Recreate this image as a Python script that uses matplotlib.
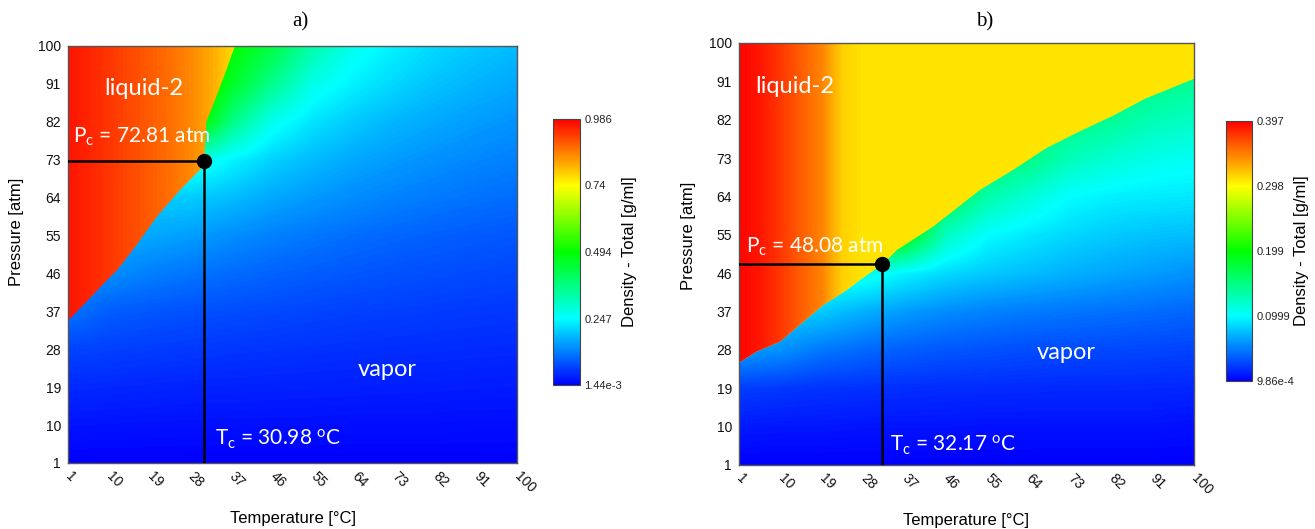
import numpy as np
import matplotlib
matplotlib.use("Agg")
import matplotlib.pyplot as plt
from matplotlib.colors import LinearSegmentedColormap, Normalize
from matplotlib.patches import Polygon
from matplotlib.cm import ScalarMappable

# ---------------- data ----------------
temps = [1, 10, 19, 28, 37, 46, 55, 64, 73, 82, 91, 100]          # °C (grid / ticks)
pressures = [1, 10, 19, 28, 37, 46, 55, 64, 73, 82, 91, 100]      # atm (grid / ticks)
tick_labels = [str(v) for v in temps]

# Panel a) -- vapour / supercritical density field [g/ml], rows = pressures, cols = temps
vapor_a = [
    [.002, .002, .002, .002, .002, .002, .002, .002, .002, .002, .002, .0015],
    [.021, .020, .019, .018, .018, .017, .017, .016, .016, .016, .015, .015],
    [.042, .040, .038, .036, .035, .034, .033, .032, .031, .030, .029, .028],
    [.068, .064, .060, .057, .054, .052, .050, .048, .046, .045, .043, .042],
    [.115, .092, .086, .080, .076, .072, .068, .064, .062, .059, .057, .055],
    [.140, .140, .125, .115, .106, .098, .092, .086, .081, .077, .073, .070],
    [.170, .170, .165, .155, .140, .127, .117, .108, .101, .095, .090, .086],
    [.200, .200, .200, .200, .185, .165, .150, .138, .128, .120, .113, .107],
    [.280, .280, .280, .280, .240, .205, .183, .165, .152, .142, .133, .126],
    [.550, .550, .550, .550, .370, .265, .222, .197, .178, .165, .154, .145],
    [.600, .600, .600, .600, .460, .360, .270, .235, .210, .190, .176, .165],
    [.650, .650, .650, .650, .500, .430, .330, .265, .235, .212, .196, .184],
]
liquid_a_temps = [1, 5.5, 10, 14.5, 19, 23.5, 28, 32.5, 37, 41.5]
liquid_a_density = [.966, .950, .933, .915, .897, .878, .853, .822, .780, .750]
boundary_a_T = [1, 5, 9.6, 12, 15.8, 20.6, 25.7, 28, 30.1, 30.98, 31.2, 31.5, 33.7, 35.8, 37.8]
boundary_a_P = [34.8, 39.2, 44.4, 47, 52.3, 59.5, 65.8, 68.3, 70.6, 72.81, 76, 82, 88, 94, 100]
Tc_a, Pc_a = 30.98, 72.81
cbar_range_a = [1.44e-3, 0.986]
cbar_ticks_a = [1.44e-3, 0.247, 0.494, 0.74, 0.986]
cbar_labels_a = ["1.44e-3", "0.247", "0.494", "0.74", "0.986"]

# Panel b)
vapor_b = [
    [.0013, .0013, .0012, .0012, .0012, .0011, .0011, .0011, .0010, .0010, .0010, .0010],
    [.011, .010, .010, .009, .009, .009, .008, .008, .008, .008, .008, .007],
    [.025, .023, .021, .020, .019, .018, .018, .0175, .017, .017, .0165, .016],
    [.062, .058, .048, .042, .038, .035, .033, .031, .030, .029, .028, .027],
    [.090, .082, .080, .070, .062, .056, .052, .049, .047, .045, .043, .041],
    [.120, .112, .110, .110, .096, .086, .080, .075, .070, .066, .062, .058],
    [.200, .200, .200, .220, .200, .125, .100, .092, .085, .080, .077, .075],
    [.180, .180, .180, .180, .180, .170, .135, .116, .100, .095, .093, .092],
    [.160, .160, .160, .160, .160, .160, .160, .150, .128, .117, .109, .105],
    [.150, .150, .150, .150, .150, .150, .150, .150, .150, .142, .130, .123],
    [.150, .150, .150, .150, .150, .150, .150, .150, .150, .150, .150, .143],
    [.150, .150, .150, .150, .150, .150, .150, .150, .150, .150, .150, .150],
]
liquid_b_temps = [1, 5.5, 10, 14.5, 19, 23.5, 28, 32.5]
liquid_b_density = [.395, .388, .375, .360, .345, .315, .308, .308]
fluid_b_density = 0.308
lower_b_T = [1, 4.8, 9.9, 15, 19.3, 24.4, 27.3, 32.17]
lower_b_P = [25.0, 27.6, 29.9, 34.6, 38.5, 42.0, 44.4, 48.08]
upper_b_T = [32.17, 35.3, 43.2, 53.4, 60.6, 67.8, 75.0, 82.3, 89.5, 100]
upper_b_P = [48.08, 51.4, 56.9, 65.5, 70.2, 75.3, 79.2, 82.9, 87.0, 91.6]
Tc_b, Pc_b = 32.17, 48.08
cbar_range_b = [9.86e-4, 0.397]
cbar_ticks_b = [9.86e-4, 0.0999, 0.199, 0.298, 0.397]
cbar_labels_b = ["9.86e-4", "0.0999", "0.199", "0.298", "0.397"]

# ---------------- style ----------------
plt.rcParams["font.family"] = ["Liberation Sans", "DejaVu Sans"]
plt.rcParams["mathtext.fontset"] = "custom"
plt.rcParams["mathtext.rm"] = "Lato"
plt.rcParams["mathtext.it"] = "Lato:italic"
ANN_FONT = ["Lato", "DejaVu Sans"]
ANN_SIZE = 17
CRIT_SIZE = 15

cmap = LinearSegmentedColormap.from_list(
    "dens", ["#0000ff", "#00ffff", "#00ff00", "#ffff00", "#ff0000"])

W, H = 1315, 529
fig = plt.figure(figsize=(W / 100, H / 100), dpi=100)


def rect(x0, y0, x1, y1):
    return [x0 / W, 1 - y1 / H, (x1 - x0) / W, (y1 - y0) / H]


def style_axes(ax):
    ax.set_xlim(temps[0], temps[-1])
    ax.set_ylim(pressures[0], pressures[-1])
    ax.set_xticks(temps)
    ax.set_xticklabels(tick_labels, rotation=-45, ha="left", va="center",
                       rotation_mode="anchor")
    ax.set_yticks(pressures)
    ax.set_yticklabels(tick_labels)
    ax.tick_params(axis="both", length=0, labelsize=10, colors="#111111")
    ax.tick_params(axis="x", pad=8)
    ax.tick_params(axis="y", pad=5)
    for s in ax.spines.values():
        s.set_color("#555555")
        s.set_linewidth(1.0)
        s.set_zorder(4)


def vapor_image(ax, grid, norm):
    dt = temps[1] - temps[0]
    dp = pressures[1] - pressures[0]
    ax.imshow(np.array(grid), origin="lower", cmap=cmap, norm=norm,
              extent=[temps[0] - dt / 2, temps[-1] + dt / 2,
                      pressures[0] - dp / 2, pressures[-1] + dp / 2],
              interpolation="bilinear", interpolation_stage="data",
              aspect="auto", zorder=0.5)


def liquid_image(ax, t, dens, norm, verts):
    dt = t[1] - t[0]
    im = ax.imshow(np.array(dens)[None, :], origin="lower", cmap=cmap, norm=norm,
                   extent=[t[0] - dt / 2, t[-1] + dt / 2,
                           pressures[0] - 5, pressures[-1] + 5],
                   interpolation="bilinear", interpolation_stage="data",
                   aspect="auto", zorder=1.5)
    poly = Polygon(verts, closed=True, transform=ax.transData)
    im.set_clip_path(poly)


def annotate(ax, Tc, Pc, pc_pos, tc_pos, liq_pos, vap_pos, pc_txt, tc_txt):
    ax.plot([temps[0], Tc], [Pc, Pc], color="black", lw=1.8, zorder=5)
    ax.plot([Tc, Tc], [Pc, pressures[0]], color="black", lw=1.8, zorder=5)
    ax.plot([Tc], [Pc], "o", color="black", ms=10, zorder=6)
    kw = dict(color="white", family=ANN_FONT, va="center", ha="left", zorder=7)
    ax.text(*pc_pos, pc_txt, fontsize=CRIT_SIZE, **kw)
    ax.text(*tc_pos, tc_txt, fontsize=CRIT_SIZE, **kw)
    ax.text(*liq_pos, "liquid-2", fontsize=ANN_SIZE, **kw)
    ax.text(*vap_pos, "vapor", fontsize=ANN_SIZE, **kw)


def colorbar(cax, norm, ticks, labels):
    cb = fig.colorbar(ScalarMappable(norm=norm, cmap=cmap), cax=cax)
    cb.set_ticks(ticks)
    cb.set_ticklabels(labels)
    cb.ax.tick_params(length=0, labelsize=8, pad=3, colors="#222222")
    cb.outline.set_edgecolor("#444444")
    cb.outline.set_linewidth(0.8)
    cb.set_label("Density - Total [g/ml]", fontsize=12, labelpad=0)


# ---------------- panel a ----------------
ax_a = fig.add_axes(rect(68, 46, 517, 463))
norm_a = Normalize(*cbar_range_a)
vapor_image(ax_a, vapor_a, norm_a)
verts_a = ([(temps[0] - 5, boundary_a_P[0])] +
           list(zip(boundary_a_T, boundary_a_P)) +
           [(boundary_a_T[-1], pressures[-1] + 5), (temps[0] - 5, pressures[-1] + 5)])
liquid_image(ax_a, liquid_a_temps, liquid_a_density, norm_a, verts_a)
style_axes(ax_a)
annotate(ax_a, Tc_a, Pc_a, (2.1, 78.4), (33.4, 6.5), (8.9, 89.8), (64.9, 23.3),
         r"P$_\mathrm{c}$ = 72.81 atm", r"T$_\mathrm{c}$ = 30.98 $^\mathrm{o}$C")
cax_a = fig.add_axes(rect(553, 119, 580, 385))
colorbar(cax_a, norm_a, cbar_ticks_a, cbar_labels_a)

# ---------------- panel b ----------------
ax_b = fig.add_axes(rect(739, 43, 1194, 465))
norm_b = Normalize(*cbar_range_b)
vapor_image(ax_b, vapor_b, norm_b)
verts_b = ([(temps[0] - 5, lower_b_P[0])] +
           list(zip(lower_b_T, lower_b_P)) +
           list(zip(upper_b_T[1:], upper_b_P[1:])) +
           [(temps[-1] + 5, upper_b_P[-1]), (temps[-1] + 5, pressures[-1] + 5),
            (temps[0] - 5, pressures[-1] + 5)])
ax_b.add_patch(Polygon(verts_b, closed=True, facecolor=cmap(norm_b(fluid_b_density)),
                       edgecolor="none", lw=0, zorder=1))
liquid_image(ax_b, liquid_b_temps, liquid_b_density, norm_b, verts_b)
style_axes(ax_b)
annotate(ax_b, Tc_b, Pc_b, (2.5, 52.1), (33.8, 5.7), (4.5, 89.9), (65.7, 27.5),
         r"P$_\mathrm{c}$ = 48.08 atm", r"T$_\mathrm{c}$ = 32.17 $^\mathrm{o}$C")
cax_b = fig.add_axes(rect(1226, 121, 1252, 381))
colorbar(cax_b, norm_b, cbar_ticks_b, cbar_labels_b)

# ---------------- titles & labels ----------------
for x, t in [(300, "a)"), (985, "b)")]:
    fig.text(x / W, 1 - 22 / H, t, family=["Liberation Serif"], fontsize=15,
             ha="center", va="center")
for x, y in [(293, 519), (966, 521)]:
    fig.text(x / W, 1 - y / H, "Temperature [°C]", fontsize=12, ha="center", va="center")
for x, y in [(17, 232), (688, 236)]:
    fig.text(x / W, 1 - y / H, "Pressure [atm]", fontsize=12, ha="center", va="center",
             rotation=90)

fig.savefig("out.png", dpi=100)
